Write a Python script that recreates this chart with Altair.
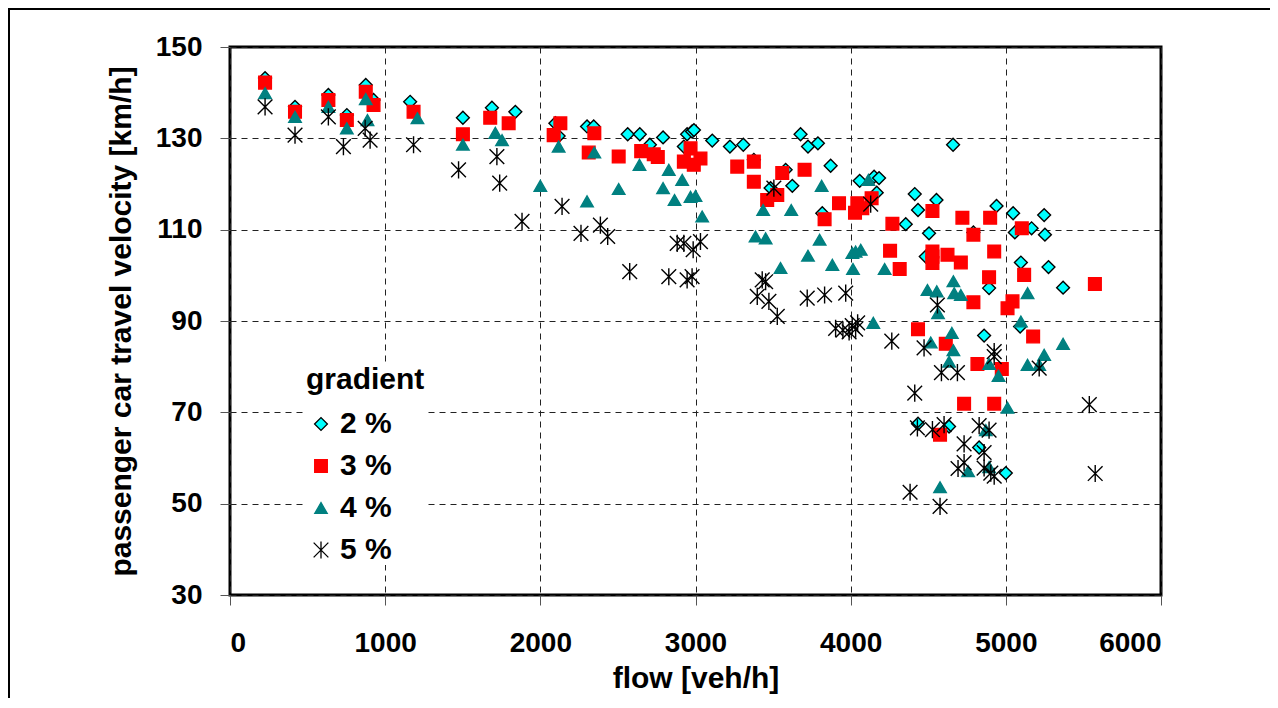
import altair as alt
import pandas as pd

# ---------------- data ----------------
gradients = ["2 %", "3 %", "4 %", "5 %"]

flow_2 = [226, 419, 634, 753, 875, 925, 1161, 1501, 1688, 1839, 2097, 2118, 2301, 2344,
          2563, 2641, 2706, 2791, 2925, 2946, 2978, 2990, 3108, 3222, 3308, 3376, 3484,
          3581, 3624, 3677, 3725, 3789, 3817, 3871, 4058, 4151, 4183, 4168, 4355, 4413,
          4434, 4484, 4505, 4553, 4660, 4791, 4892, 4860, 4940, 5047, 5058, 5092, 5097,
          5166, 5247, 5252, 5275, 5369, 4434, 4634, 4828, 5000]
vel_2 = [143.2, 136.9, 139.5, 135.1, 141.7, 138.4, 138.0, 134.5, 136.7, 135.8, 133.3, 130.5,
         132.6, 132.6, 130.9, 130.9, 128.6, 130.2, 128.2, 130.9, 131.5, 131.8, 129.5, 128.2,
         128.6, 125.3, 119.1, 123.1, 119.6, 130.9, 128.2, 128.9, 113.6, 124.0, 120.7, 121.6,
         121.3, 118.1, 111.2, 117.8, 114.3, 104.1, 109.2, 116.5, 128.6, 109.4, 97.2, 86.8,
         115.2, 113.6, 109.4, 88.8, 102.8, 110.3, 113.2, 108.9, 101.8, 97.3, 67.5, 66.9,
         62.3, 56.7]

flow_3 = [226, 419, 634, 753, 875, 925, 1183, 1501, 1677, 1796, 2086, 2129, 2312, 2348,
          2505, 2650, 2731, 2757, 2968, 2925, 2989, 3032, 3269, 3376, 3376, 3462, 3527,
          3559, 3703, 3832, 3925, 4043, 4028, 4075, 4135, 4269, 4527, 4720, 4791, 4899,
          5103, 4254, 4316, 4527, 4527, 4527, 4624, 4710, 4925, 4892, 5118, 5574, 4791,
          5043, 5011, 4434, 5176, 4613, 4817, 4974, 4731, 4925, 4576]
vel_3 = [142.2, 135.8, 138.4, 134.0, 140.2, 137.3, 135.8, 130.9, 134.5, 133.3, 130.7, 133.3,
         126.9, 131.1, 126.0, 127.2, 126.5, 125.9, 127.8, 124.9, 124.2, 125.6, 123.8, 124.9,
         120.5, 116.5, 117.6, 122.4, 123.1, 112.3, 115.8, 115.8, 113.7, 114.7, 116.9, 111.3,
         114.1, 112.6, 108.9, 112.6, 110.3, 105.4, 101.4, 105.2, 104.1, 102.7, 104.5, 102.8,
         105.2, 99.6, 100.1, 98.1, 94.1, 94.3, 92.8, 88.2, 86.6, 85.0, 80.6, 79.5, 71.9,
         71.9, 65.1]

flow_4 = [226, 419, 634, 753, 875, 886, 1208, 1501, 1710, 1753, 2000, 2118, 2301, 2348,
          2505, 2639, 2791, 2828, 2865, 2914, 2968, 3000, 3043, 3387, 3436, 3452, 3548,
          3617, 3725, 3800, 3813, 3882, 4011, 4032, 4065, 4015, 4114, 4219, 4146, 4495,
          4555, 4563, 4662, 4667, 4710, 4652, 4662, 4634, 4516, 4892, 4953, 5097, 5140,
          5140, 5215, 5247, 5369, 5011, 4871, 4757, 4892, 4576]
vel_4 = [139.9, 134.7, 136.9, 132.2, 138.6, 134.0, 134.4, 128.6, 131.2, 129.6, 119.6, 128.2,
         116.2, 126.9, 118.9, 124.2, 119.1, 123.1, 116.5, 120.9, 117.2, 117.4, 112.9, 108.5,
         114.3, 108.1, 101.6, 114.3, 104.3, 107.8, 119.6, 102.3, 104.9, 105.2, 105.6, 101.4,
         120.9, 101.4, 89.6, 96.8, 96.5, 91.7, 98.7, 96.1, 95.7, 87.4, 83.6, 81.1, 85.3,
         80.6, 78.0, 89.9, 96.1, 80.4, 80.4, 82.6, 85.0, 71.0, 66.1, 57.1, 58.0, 53.6]

flow_5 = [226, 419, 634, 731, 871, 903, 1183, 1473, 1720, 1738, 1882, 2140, 2262, 2387,
          2434, 2576, 2828, 2882, 2925, 2946, 2978, 2985, 3032, 3398, 3430, 3452, 3473,
          3505, 3527, 3720, 3832, 3903, 3968, 3950, 3990, 4010, 4032, 4045, 4129, 4265,
          4473, 4559, 4585, 4688, 4925, 4925, 5215, 4413, 5538, 4430, 4527, 4602, 4828,
          4892, 4731, 4860, 4731, 4692, 4860, 4903, 4925, 5576, 4383, 4576]
vel_5 = [136.9, 130.7, 134.7, 128.2, 132.2, 129.6, 128.6, 123.1, 126.0, 120.2, 111.8, 115.1,
         109.2, 111.0, 108.5, 100.8, 99.7, 107.0, 107.0, 99.0, 99.7, 105.6, 107.4, 95.4,
         99.0, 98.6, 94.3, 119.1, 91.0, 95.0, 95.7, 88.4, 96.1, 88.0, 87.6, 89.0, 88.2,
         89.6, 115.6, 85.6, 84.1, 93.5, 78.7, 78.7, 83.3, 82.2, 79.7, 74.2, 71.7, 66.6,
         66.2, 67.3, 67.1, 66.1, 63.1, 61.2, 59.0, 57.7, 57.8, 56.7, 56.0, 56.6, 52.5, 49.4]

x_ticks = [0, 1000, 2000, 3000, 4000, 5000, 6000]
y_ticks = [30, 50, 70, 90, 110, 130, 150]

rows = []
for g, fl, vl in zip(gradients, [flow_2, flow_3, flow_4, flow_5], [vel_2, vel_3, vel_4, vel_5]):
    rows += [{"gradient": g, "flow": f, "velocity": v} for f, v in zip(fl, vl)]
df = pd.DataFrame(rows)

# ---------------- styling ----------------
FONT = "Liberation Sans"
STAR = "M-1.2,-1.2L1.2,1.2M-1.2,1.2L1.2,-1.2M0,-1.4L0,1.4"
LEG = alt.Legend(title="gradient")

points = alt.Chart(df).mark_point(filled=False, strokeWidth=1.4, opacity=1).encode(
    x=alt.X("flow:Q",
            scale=alt.Scale(domain=[0, 6000], nice=False, zero=False),
            axis=alt.Axis(values=x_ticks, format="d", title="flow [veh/h]", tickSize=10,
                          labelPadding=46, labelBaseline="alphabetic",
                          titleY=92, titleBaseline="alphabetic")),
    y=alt.Y("velocity:Q",
            scale=alt.Scale(domain=[30, 150], nice=False, zero=False),
            axis=alt.Axis(values=y_ticks, format="d",
                          title="passenger car travel velocity [km/h]",
                          tickSize=10, labelPadding=18, labelBaseline="middle",
                          titleX=-100, titleY=274, titleAngle=-90,
                          titleBaseline="alphabetic", titleAlign="center")),
    shape=alt.Shape("gradient:N",
                    scale=alt.Scale(domain=gradients,
                                    range=["diamond", "square", "triangle-up", STAR]),
                    legend=LEG),
    fill=alt.Fill("gradient:N",
                  scale=alt.Scale(domain=gradients,
                                  range=["#00FFFF", "#FF0000", "#008080", "transparent"]),
                  legend=LEG),
    stroke=alt.Stroke("gradient:N",
                      scale=alt.Scale(domain=gradients,
                                      range=["#000000", "#FF0000", "#008080", "#000000"]),
                      legend=LEG),
    size=alt.Size("gradient:N",
                  scale=alt.Scale(domain=gradients, range=[165, 150, 150, 200]),
                  legend=LEG),
)

frame_data = alt.Data(values=[{"k": 1}])
frame_top = alt.Chart(frame_data).mark_rule(color="black", strokeWidth=2).encode(
    x=alt.value(-222), x2=alt.value(1200), y=alt.value(-38))
frame_left = alt.Chart(frame_data).mark_rule(color="black", strokeWidth=2).encode(
    x=alt.value(-221), y=alt.value(-39), y2=alt.value(700))

chart = alt.layer(points, frame_top, frame_left).properties(
    width=931, height=548,
    autosize=alt.AutoSizeParams(type="none"),
    padding={"left": 222, "top": 39, "right": 109, "bottom": 103},
    background="white",
).configure_view(
    stroke="black", strokeWidth=3
).configure_axis(
    labelFont=FONT, labelFontSize=28, labelFontWeight="bold", labelColor="black",
    titleFont=FONT, titleFontSize=30, titleFontWeight="bold", titleColor="black",
    grid=True, gridColor="#222222", gridDash=[6, 5], gridWidth=1,
    domain=False, tickColor="#555555", tickWidth=1,
).configure_legend(
    orient="none", legendX=76, legendY=318, padding=0,
    titleFont=FONT, titleFontSize=30, titleFontWeight="bold", titleColor="black",
    titlePadding=14,
    labelFont=FONT, labelFontSize=30, labelFontWeight="bold", labelColor="black",
    labelOffset=4, rowPadding=12, symbolOffset=0, symbolStrokeWidth=1.3,
    fillColor="white",
)

chart.save("out.html", embed_options={"renderer": "svg", "actions": False})
